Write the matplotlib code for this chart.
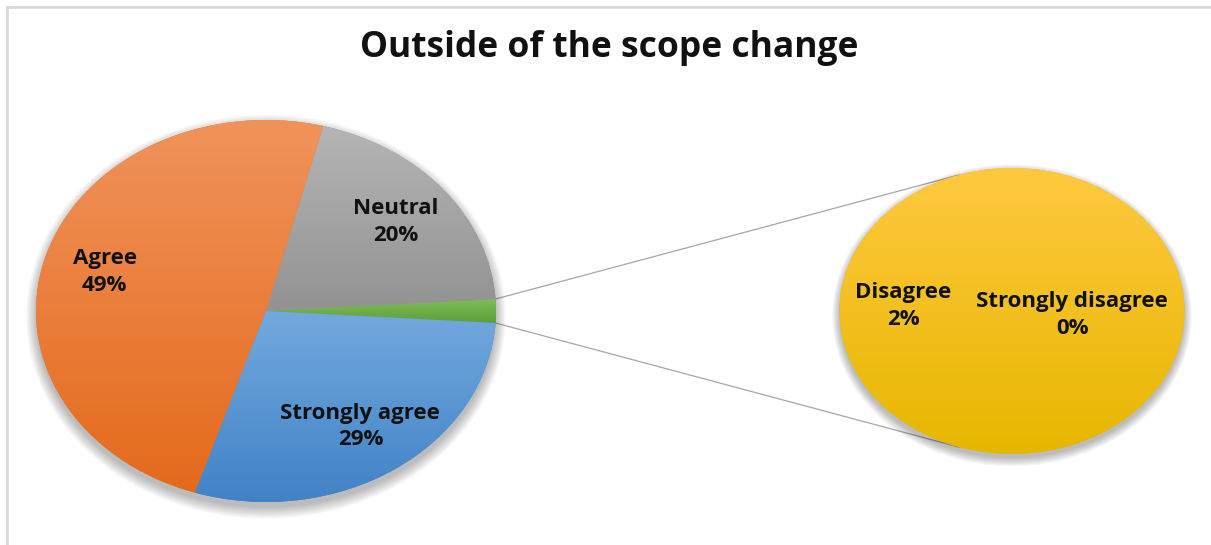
import numpy as np
import matplotlib.pyplot as plt
from matplotlib.patches import Ellipse, ConnectionPatch
from matplotlib.colors import LinearSegmentedColormap

plt.rcParams['font.family'] = ['Open Sans', 'DejaVu Sans']

# survey answers (percent)
main_names = ['Other', 'Neutral', 'Agree', 'Strongly agree']
main_vals = [2, 20, 49, 29]
sub_names = ['Disagree', 'Strongly disagree']
sub_vals = [2, 0]

# (top, bottom) gradient colours for each slice
main_grad = [('#7fbd57', '#5e9f38'), ('#b5b5b5', '#929292'),
             ('#f0935b', '#e46a1b'), ('#72a9de', '#4182c6')]
sub_grad = [('#ffc93f', '#e6b700'), ('#ffc93f', '#e6b700')]

W, H = 1211, 545
fig = plt.figure(figsize=(W / 100, H / 100), dpi=100)

def pie_axes(cx, cy, rx, ry, pad=1.1):
    # axes in pixel units, pie of radius 1 stretched to rx, ry
    w, h = 2 * rx * pad, 2 * ry * pad
    ax = fig.add_axes([(cx - w / 2) / W, 1 - (cy + h / 2) / H, w / W, h / H])
    return ax

def shade(ax, wedges, grads):
    # vertical gradient inside every wedge
    for w, (c0, c1) in zip(wedges, grads):
        ext = w.get_path().get_extents()
        if ext.width <= 0 or ext.height <= 0:
            continue
        cmap = LinearSegmentedColormap.from_list('g', [c1, c0])
        grad = np.linspace(0, 1, 256).reshape(-1, 1)
        im = ax.imshow(grad, cmap=cmap, origin='lower', aspect='auto',
                       extent=(ext.x0, ext.x1, ext.y0, ext.y1),
                       interpolation='bilinear', zorder=2)
        im.set_clip_path(w)
        w.set_facecolor(c1)

def shadow(ax):
    for k in range(8):
        e = Ellipse((0, -0.03), 2 + 0.012 * k, 2 + 0.016 * k,
                    color='black', alpha=0.035, lw=0, zorder=0)
        ax.add_patch(e)

def finish(ax, pad=1.1):
    ax.set_aspect('auto')
    ax.set_xlim(-pad, pad)
    ax.set_ylim(-pad, pad)
    ax.axis('off')

label_style = dict(fontsize=16, fontweight='bold', ha='center', va='center',
                   color='#111111', linespacing=1.35, zorder=5)

# left pie
ax1 = pie_axes(266, 311, 230, 191)
labels = [''] + [f'{n}\n{v}%' for n, v in zip(main_names[1:], main_vals[1:])]
wedges, texts = ax1.pie(main_vals, labels=labels, startangle=-main_vals[0] * 1.8,
                        counterclock=True, labeldistance=0.73, radius=1,
                        wedgeprops=dict(lw=0, zorder=1), textprops=label_style)
shade(ax1, wedges, main_grad)
shadow(ax1)
finish(ax1)

# right pie
ax2 = pie_axes(1012, 311, 172.5, 143)
sub_labels = [f'{n}\n{v}%' for n, v in zip(sub_names, sub_vals)]
w2, t2 = ax2.pie(sub_vals, labels=sub_labels, startangle=-3, counterclock=True,
                 labeldistance=0.63, radius=1,
                 wedgeprops=dict(lw=0, zorder=1), textprops=label_style)
t2[1].set_position((0.35, -0.03))
shade(ax2, w2, sub_grad)
shadow(ax2)
finish(ax2)

# connector lines from the small slice to tangent points on the right pie
fig.canvas.draw()
a = np.deg2rad(main_vals[0] * 1.8)
th = np.linspace(0, 2 * np.pi, 2000)
ell = ax2.transData.transform(np.column_stack([np.cos(th), np.sin(th)]))
for sgn in (1, -1):
    p = np.array([np.cos(a), sgn * np.sin(a)])
    pp = ax1.transData.transform(p)
    ang = np.arctan2(ell[:, 1] - pp[1], ell[:, 0] - pp[0])
    i = np.argmax(ang) if sgn > 0 else np.argmin(ang)
    q = (np.cos(th[i]), np.sin(th[i]))
    con = ConnectionPatch(xyA=p, coordsA=ax1.transData, xyB=q, coordsB=ax2.transData,
                          color='#a6a6a6', lw=0.9, zorder=0)
    fig.add_artist(con)

fig.text(609 / W, 1 - 48 / H, 'Outside of the scope change', ha='center', va='center',
         fontsize=25.5, fontweight='bold', color='#111111')

# chart frame
fig.add_artist(plt.Line2D([7 / W, 7 / W], [0, 1 - 7 / H], color='#d9d9d9', lw=2))
fig.add_artist(plt.Line2D([7 / W, 1], [1 - 7 / H, 1 - 7 / H], color='#d9d9d9', lw=2))

fig.savefig('out.png', dpi=100)
